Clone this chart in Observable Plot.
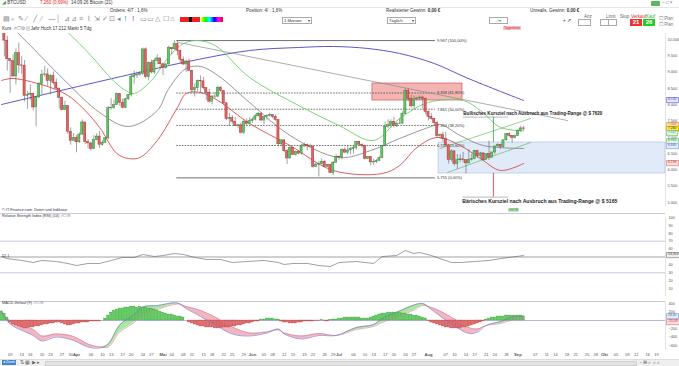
<!DOCTYPE html>
<html><head><meta charset="utf-8">
<script src="https://cdn.jsdelivr.net/npm/d3@7"></script>
<script src="https://cdn.jsdelivr.net/npm/@observablehq/plot@0.6"></script>
<style>
body{margin:0;background:#fff;font-family:"Liberation Sans",Arial,sans-serif;}
#wrap{position:relative;width:679px;height:366px;overflow:hidden;background:#fff;}
.p{position:absolute;left:0;}
.t{position:absolute;font-size:4.5px;line-height:6px;color:#333;white-space:nowrap;}
.box{position:absolute;border:0.5px solid #aaa;background:#fff;font-size:4.2px;line-height:5px;color:#333;white-space:nowrap;padding:0 1px;}
.tag{position:absolute;left:666px;font-size:3.4px;line-height:3.8px;padding:0 1px;white-space:nowrap;transform:translateY(-50%);border:0.4px solid;}
.ic{position:absolute;top:15px;font-size:7px;line-height:8px;color:#888;}
.hl{position:absolute;height:0;border-top:0.8px solid #c9c9e2;}
</style></head><body><div id="wrap"></div>
<script>
// ---------------- data ----------------
const firstDay = "2018-03-06";
const open0 = 11573;
const close = [
 10779,9965,9395,9337,8866,9578,9205,9194,8270,8300,8338,7916,8223,8630,8913,8929,8728,8879,8669,8495,8209,7833,7954,7165,6891,6973,
 6845,7083,7456,6853,6811,6636,6911,7023,6770,6834,6968,7889,7895,7986,8329,8058,7902,8163,8294,8845,8896,8917,8940,9697,8845,9281,8988,9348,9419,9240,
 9119,9235,9744,9700,9859,9655,9374,9235,9325,9043,8441,8505,8723,8716,8511,8368,8094,8251,8248,8514,8419,8042,7557,7587,7480,7355,7368,7136,7472,7407,7494,
 7541,7644,7720,7514,7633,7653,7678,7625,7531,6786,6906,6582,6349,6675,6457,6550,6500,6718,6760,6721,6711,6083,6163,6173,6250,6094,6157,5903,6218,6404,
 6385,6614,6529,6597,6639,6673,6857,6773,6741,6329,6394,6228,6238,6276,6359,6741,7321,7370,7466,7354,7419,7418,7711,8424,8181,7951,8165,8193,8218,8180,7780,
 7625,7567,7434,7032,7068,6951,6753,6305,6568,6184,6295,6323,6297,6199,6308,6334,6580,6423,6506,6308,6488,6376,6534,6719,6764,6708,6908,7096,7047,6978,7037,
 7193,7273,7260];
const high = [
 11600,11000,10100,9420,9531,9711,9889,9470,9355,8402,8604,8346,8261,8682,9051,9177,9100,8918,9007,8787,8511,8232,8107,7965,7292,7110,
 7050,7135,7530,7457,6933,6857,7050,7109,7178,6892,6990,7947,8183,8140,8357,8338,8177,8197,8310,8935,9035,9002,9021,9739,9745,9307,9367,9412,9531,9429,
 9255,9256,9798,9746,9964,9940,9674,9463,9370,9400,9060,8638,8760,8881,8837,8512,8470,8275,8380,8572,8560,8430,8050,7735,7662,7603,7400,7445,7537,7565,7599,
 7597,7700,7760,7754,7637,7689,7741,7700,7685,7540,6915,6920,6620,6707,6690,6580,6590,6785,6822,6794,6790,6735,6238,6256,6339,6283,6165,6171,6261,6465,
 6432,6643,6681,6736,6683,6736,6860,6880,6795,6760,6407,6410,6330,6320,6400,6750,7466,7535,7537,7613,7452,7568,7784,8478,8485,8292,8264,8231,8270,8260,8200,
 7800,7727,7580,7492,7102,7160,7150,6770,6625,6595,6472,6465,6537,6310,6620,6478,6600,6583,6538,6521,6500,6883,6550,6728,6805,6786,6914,7112,7140,7059,7066,
 7243,7344,7338];
const low = [
 10580,9466,9035,8350,8828,8607,8958,8933,8083,7861,8126,7812,7323,8179,8295,8846,8564,8312,8613,8444,7862,7807,7830,7081,6758,6891,
 6526,6816,7072,6776,6644,6575,6630,6890,6662,6726,6817,6926,7831,7860,7975,7948,7876,7880,8140,8234,8631,8806,8873,8900,8792,8730,8948,8931,9227,9085,
 8891,9084,9218,9542,9680,9508,9265,9198,8983,9010,8349,8238,8405,8340,8456,8137,8050,7994,8181,8211,8375,8004,7509,7331,7392,7334,7273,7102,7090,7337,7380,
 7429,7500,7620,7474,7392,7525,7630,7563,7500,6709,6714,6536,6170,6335,6439,6424,6470,6446,6705,6589,6700,6052,6074,5786,6143,6089,6068,5892,5826,6200,
 6297,6305,6497,6473,6459,6487,6609,6740,6662,6304,6313,6130,6136,6194,6265,6346,6705,7276,7281,7290,7301,7393,7405,7704,8090,7897,7862,8118,8127,7871,7696,
 7505,7525,7329,6986,6940,6848,6740,6180,6249,6113,6022,6237,6212,5880,6180,6263,6312,6361,6307,6266,6298,6289,6362,6465,6688,6632,6686,6886,6995,6824,6944,
 7030,7151,7195];

// long moving average (blue)
const blueDates = ["2018-03-06","2018-04-03","2018-04-21","2018-05-08","2018-05-31","2018-06-17","2018-06-29","2018-07-11","2018-07-22","2018-08-03","2018-08-14","2018-08-26","2018-09-03"];
const blueValues = [8006,8589,8957,9294,9663,9755,9785,9724,9571,9264,8834,8405,8129];
// upper band (green)
const upperDates = ["2018-03-25","2018-03-29","2018-04-06","2018-04-13","2018-04-18","2018-04-21","2018-04-27","2018-05-02","2018-05-07","2018-05-12","2018-05-19","2018-05-31","2018-06-17","2018-07-01","2018-07-13","2018-07-22","2018-08-01","2018-08-13","2018-08-19","2018-08-26","2018-09-03"];
const upperValues = [10521,10215,9509,8804,8436,8344,8742,9356,9816,9969,9816,8834,7975,7362,6902,7577,8067,8129,7822,7300,7200];
// middle band (gray)
const midDates = ["2018-03-08","2018-03-11","2018-03-16","2018-03-29","2018-04-09","2018-04-19","2018-04-29","2018-05-03","2018-05-09","2018-05-14","2018-05-20","2018-05-31","2018-06-14","2018-07-01","2018-07-12","2018-07-22","2018-08-01","2018-08-05","2018-08-12","2018-08-20","2018-09-03"];
const midValues = [10700,10276,9816,8650,7761,7331,7822,8497,9110,9172,8896,8067,7055,6380,6595,6963,7301,7393,7055,6748,6656];
// lower band (red)
const lowerDates = ["2018-03-06","2018-03-10","2018-03-23","2018-03-29","2018-04-03","2018-04-09","2018-04-15","2018-04-19","2018-04-23","2018-04-29","2018-05-06","2018-05-09","2018-05-14","2018-05-20","2018-05-31","2018-06-14","2018-06-29","2018-07-16","2018-07-22","2018-07-28","2018-08-04","2018-08-12","2018-08-19","2018-08-26","2018-09-03"];
const lowerValues = [8742,8804,8528,8282,7914,7301,6503,6350,6380,6902,7914,8344,8374,8129,7423,6748,5982,5889,6135,6687,6994,6748,6350,5982,6196];

// Fibonacci retracement
const fibValues = [9967,8358,7861,7364,6749,5755];
const fibLabels = ["9.967 (100,00%)","8.358 (61,80%)","7.861 (50,00%)","7.364 (38,20%)","6.749 (23,60%)","5.755 (0,00%)"];
const fibSolid = [true,false,false,false,false,true];
const fibFrom = "2018-05-05T18:00:00Z", fibTo = "2018-08-03T10:00:00Z";

// drawn objects
const trendDates = ["2018-05-06T10:00:00Z","2018-09-18T05:00:00Z"];
const trendValues = [9908,7515];
const rangeBox = {from:"2018-08-04T12:00:00Z", to:"2018-10-22T03:50:00Z", lo:5890, hi:6840};
const resistBox = {from:"2018-07-12T14:00:00Z", to:"2018-08-12T19:00:00Z", lo:8129, hi:8650};
const channelUpperDates = ["2018-08-05T00:00:00Z","2018-09-05T10:00:00Z"], channelUpperValues = [6656,7577];
const channelLowerDates = ["2018-08-07T14:00:00Z","2018-09-05T10:00:00Z"], channelLowerValues = [5920,6840];
const targetFrom = "2018-08-13T02:00:00Z", targetTo = "2018-08-28T17:00:00Z";
const targetValues = [7620,5165];
const moveDate = "2018-08-23T12:00:00Z";
const bullText = "Bullisches Kursziel nach Ausbruch aus Trading-Range @ $ 7620";
const bearText = "Bärisches Kursziel nach Ausbruch aus Trading-Range @ $ 5165";
const bullTextAt = {date:"2018-08-13T02:00:00Z", v:7730};
const bearTextAt = {date:"2018-08-12T18:00:00Z", v:5031};

// RSI
const rsiDates = ["2018-03-06","2018-03-08","2018-03-13","2018-03-17","2018-03-20","2018-03-25","2018-03-29","2018-04-01","2018-04-05","2018-04-09","2018-04-13","2018-04-17","2018-04-21","2018-04-24","2018-04-28","2018-05-01","2018-05-05","2018-05-08","2018-05-12","2018-05-16","2018-05-21","2018-05-25","2018-05-30","2018-06-05","2018-06-10","2018-06-12","2018-06-15","2018-06-20","2018-06-24","2018-06-28","2018-07-01","2018-07-07","2018-07-13","2018-07-16","2018-07-21","2018-07-24","2018-07-27","2018-07-29","2018-08-02","2018-08-05","2018-08-09","2018-08-12","2018-08-17","2018-08-22","2018-08-26","2018-08-29","2018-09-03"];
const rsiValues = [50.6,48,45.6,43,45.6,44.3,41.8,39.2,41.8,41.8,45.6,49.4,49.4,53.2,50.6,51.9,54.4,53.2,49.4,46.8,46.8,43,44.3,45.6,43,40.5,41.8,41.8,39.2,38,43,44.3,41.8,50.6,51.9,58.2,54.4,55.7,51.9,48,43,43,44.3,45.6,48,49.4,51.9];

// MACD
const macdDates = ["2018-03-06","2018-03-09","2018-03-17","2018-03-20","2018-03-25","2018-03-31","2018-04-05","2018-04-09","2018-04-12","2018-04-16","2018-04-21","2018-04-24","2018-04-29","2018-05-06","2018-05-09","2018-05-14","2018-05-20","2018-05-25","2018-05-31","2018-06-06","2018-06-10","2018-06-12","2018-06-18","2018-06-24","2018-06-30","2018-07-07","2018-07-13","2018-07-16","2018-07-22","2018-07-27","2018-07-30","2018-08-02","2018-08-05","2018-08-10","2018-08-15","2018-08-18","2018-08-21","2018-08-26","2018-08-30","2018-09-03"];
const macdValues = [229,-84,-361,-494,-398,-482,-639,-663,-567,-108,145,326,361,422,289,97,-145,-326,-373,-301,-205,-325,-446,-361,-362,-169,-96,48,229,373,410,265,109,-132,-313,-277,-120,-24,84,108];
const signalValues = [205,-12,-217,-374,-326,-386,-567,-639,-639,-278,-49,157,265,398,337,242,49,-157,-301,-277,-229,-301,-374,-313,-362,-217,-144,-48,109,253,362,313,229,36,-169,-205,-120,-72,12,36];
const histValues = [
 216,168,72,-48,-96,-120,-144,-168,-192,-192,-168,-168,-144,-144,-120,-96,-96,-72,-72,-48,-48,-72,-96,-120,-120,-96,
 -72,-72,-48,-48,-48,-24,-24,-24,-24,0,48,120,192,240,264,288,288,312,312,336,336,312,336,312,312,288,288,264,240,216,
 192,168,144,144,120,96,96,72,0,-48,-72,-96,-120,-144,-144,-168,-168,-168,-192,-192,-192,-168,-168,-168,-144,-144,-120,-120,-96,-72,-72,
 -48,-24,-24,24,24,48,48,48,24,24,-24,-48,-48,-72,-72,-72,-48,-48,-24,-24,-24,-24,-12,-12,12,-12,-24,12,24,24,
 48,48,72,72,72,72,72,72,48,48,48,72,96,120,144,168,168,192,192,192,192,192,168,168,144,144,120,120,96,72,48,
 -12,-48,-72,-96,-120,-144,-168,-168,-192,-192,-192,-192,-168,-168,-144,-120,-96,-72,-48,-24,24,48,72,72,96,96,96,120,120,120,120,
 120,120,96];

// axes
const priceTicks = [5000,5500,6000,6500,7000,7500,8000,8500,9000,9500,10000];
const rsiTicks = [10,20,30,40,60,70,80,90,100];
const macdTicks = [400,200,-200,-400,-600];
const dayTicks = ["2018-03-09","2018-03-13","2018-03-16","2018-03-20","2018-03-23","2018-03-27","2018-03-30",
 "2018-04-06","2018-04-10","2018-04-13","2018-04-17","2018-04-20","2018-04-24","2018-04-27",
 "2018-05-04","2018-05-08","2018-05-11","2018-05-15","2018-05-18","2018-05-22","2018-05-25","2018-05-29",
 "2018-06-05","2018-06-08","2018-06-12","2018-06-15","2018-06-19","2018-06-22","2018-06-26","2018-06-29",
 "2018-07-06","2018-07-10","2018-07-13","2018-07-17","2018-07-20","2018-07-24","2018-07-27",
 "2018-08-07","2018-08-10","2018-08-14","2018-08-17","2018-08-21","2018-08-24","2018-08-28",
 "2018-09-07","2018-09-11","2018-09-14","2018-09-18","2018-09-21","2018-09-25","2018-09-28",
 "2018-10-05","2018-10-09","2018-10-12","2018-10-16","2018-10-19"];
const monthTicks = ["2018-04-01","2018-05-01","2018-06-01","2018-07-01","2018-08-01","2018-09-01","2018-10-01"];
const monthNames = ["Apr","Mai","Jun","Jul","Aug","Sep","Okt"];

// ---------------- build ----------------
const U = s => new Date(s.length === 10 ? s + "T00:00:00Z" : s);
const series = (ds, vs) => ds.map((d, i) => ({date: U(d), v: vs[i]}));
const xDomain = [U("2018-03-05T15:46:00Z"), U("2018-10-22T03:50:00Z")];
const xRange = [0, 665];
const fontFamily = "Liberation Sans, Arial, sans-serif";
const de = d3.formatLocale({decimal: ",", thousands: ".", grouping: [3], currency: ["", "€"]});
const fmtPrice = de.format(",.0f");

const candles = close.map((c, i) => ({
  date: d3.utcDay.offset(U(firstDay), i),
  open: i === 0 ? open0 : close[i - 1], close: c, high: high[i], low: low[i]
}));
const upC = candles.filter(d => d.close >= d.open);
const dnC = candles.filter(d => d.close < d.open);
const half = 9 * 3600e3;
const bx1 = d => new Date(+d.date - half), bx2 = d => new Date(+d.date + half);
const fib = fibValues.map((v, i) => ({v, label: fibLabels[i], solid: fibSolid[i]}));

const wrap = document.getElementById("wrap");
function place(el, top) { const d = document.createElement("div"); d.className = "p"; d.style.top = top + "px"; d.appendChild(el); wrap.appendChild(d); return d; }
function html(s) { wrap.insertAdjacentHTML("beforeend", s); }

// ---- main price panel ----
const mainTop = 30;
const main = Plot.plot({
  width: 679, height: 178, marginLeft: 0, marginRight: 14, marginTop: 3, marginBottom: 2,
  x: {type: "utc", domain: xDomain, range: xRange, axis: null, label: null},
  y: {domain: [5000, 10000], range: [172, 9], label: null},
  style: {fontFamily, fontSize: "4.2px", background: "transparent", color: "#555", overflow: "visible"},
  marks: [
    Plot.rect([rangeBox], {x1: d => U(d.from), x2: d => U(d.to), y1: "lo", y2: "hi", fill: "#e1eaf8", stroke: "#a9bee2", strokeWidth: 0.6}),
    Plot.rect([resistBox], {x1: d => U(d.from), x2: d => U(d.to), y1: "lo", y2: "hi", fill: "#f4b4b4", stroke: "#d65454", strokeWidth: 0.7}),
    Plot.ruleY(fib.filter(d => d.solid), {y: "v", x1: () => U(fibFrom), x2: () => U(fibTo), stroke: "#333", strokeWidth: 0.7}),
    Plot.ruleY(fib.filter(d => !d.solid), {y: "v", x1: () => U(fibFrom), x2: () => U(fibTo), stroke: "#333", strokeWidth: 0.7, strokeDasharray: "1.6,1.2"}),
    Plot.text(fib, {x: () => U(fibTo), y: "v", text: "label", textAnchor: "start", dx: 1.5, fontSize: 4, fill: "#333"}),
    Plot.line(series(blueDates, blueValues), {x: "date", y: "v", stroke: "#5a58c8", strokeWidth: 1, curve: "catmull-rom", clip: true}),
    Plot.line(series(trendDates, trendValues), {x: "date", y: "v", stroke: "#8a8a8a", strokeWidth: 0.7}),
    Plot.line(series(upperDates, upperValues), {x: "date", y: "v", stroke: "#6ccf6c", strokeWidth: 0.9, curve: "catmull-rom", clip: true}),
    Plot.line(series(midDates, midValues), {x: "date", y: "v", stroke: "#7c7c7c", strokeWidth: 0.8, curve: "catmull-rom", clip: true}),
    Plot.line(series(lowerDates, lowerValues), {x: "date", y: "v", stroke: "#d94a4a", strokeWidth: 0.9, curve: "catmull-rom", clip: true}),
    Plot.line(series(channelUpperDates, channelUpperValues), {x: "date", y: "v", stroke: "#4fb34f", strokeWidth: 0.6}),
    Plot.line(series(channelLowerDates, channelLowerValues), {x: "date", y: "v", stroke: "#4fb34f", strokeWidth: 0.6}),
    Plot.ruleY(targetValues, {y: d => d, x1: () => U(targetFrom), x2: () => U(targetTo), stroke: "#8a8a8a", strokeWidth: 0.6}),
    Plot.ruleX([moveDate], {x: d => U(d), y1: () => rangeBox.hi, y2: () => targetValues[0], stroke: "#3f9f3f", strokeWidth: 0.8}),
    Plot.ruleX([moveDate], {x: d => U(d), y1: () => rangeBox.lo, y2: () => targetValues[1], stroke: "#d23030", strokeWidth: 0.8}),
    Plot.ruleX(candles, {x: "date", y1: "low", y2: "high", stroke: "#555", strokeWidth: 0.55, clip: true}),
    Plot.rect(upC, {x1: bx1, x2: bx2, y1: "open", y2: "close", fill: "#66c466", stroke: "#2f7d32", strokeWidth: 0.45, clip: true}),
    Plot.rect(dnC, {x1: bx1, x2: bx2, y1: "open", y2: "close", fill: "#e06464", stroke: "#a42a2a", strokeWidth: 0.45, clip: true}),
    Plot.text([bullTextAt], {x: d => U(d.date), y: "v", text: () => bullText, textAnchor: "start", fontSize: 6, fontWeight: "bold", fill: "#222"}),
    Plot.text([bearTextAt], {x: d => U(d.date), y: "v", text: () => bearText, textAnchor: "start", fontSize: 6, fontWeight: "bold", fill: "#222"}),
    Plot.ruleX([xDomain[1]], {stroke: "#d0d0d0", strokeWidth: 0.6}),
    Plot.axisY({anchor: "right", ticks: priceTicks, tickSize: 0, tickPadding: 2, tickFormat: fmtPrice, fontSize: 3.8, label: null})
  ]
});
d3.select(main).selectAll("text").each(function () {
  const t = this.textContent;
  if (t === bullText) { this.setAttribute("textLength", 139); this.setAttribute("lengthAdjust", "spacingAndGlyphs"); }
  if (t === bearText) { this.setAttribute("textLength", 155); this.setAttribute("lengthAdjust", "spacingAndGlyphs"); }
});
place(main, mainTop);

// ---- RSI panel ----
const rsiTop = 208;
const rsi = Plot.plot({
  width: 679, height: 92, marginLeft: 0, marginRight: 14, marginTop: 5, marginBottom: 4,
  x: {type: "utc", domain: xDomain, range: xRange, axis: null, label: null},
  y: {domain: [0, 100], range: [88, 9], label: null},
  style: {fontFamily, fontSize: "4px", background: "transparent", color: "#555", overflow: "visible"},
  marks: [
    Plot.ruleY([70, 30], {stroke: "#b9b9da", strokeWidth: 0.8}),
    Plot.ruleY([50], {stroke: "#8c8c8c", strokeWidth: 0.8}),
    Plot.line(series(rsiDates, rsiValues), {x: "date", y: "v", stroke: "#606060", strokeWidth: 0.6}),
    Plot.ruleX([xDomain[1]], {y1: 0, y2: 100, stroke: "#d0d0d0", strokeWidth: 0.6}),
    Plot.axisY({anchor: "right", ticks: rsiTicks, tickSize: 0, tickPadding: 3, tickFormat: d3.format("d"), fontSize: 3.8, label: null})
  ]
});
place(rsi, rsiTop);

// ---- MACD panel ----
const macdTop = 300;
const macdData = macdDates.map((d, i) => ({date: U(d), m: macdValues[i], s: signalValues[i]}));
const hist = histValues.map((v, i) => ({date: d3.utcDay.offset(U(firstDay), i), v}));
const hx1 = d => new Date(+d.date - 10 * 3600e3), hx2 = d => new Date(+d.date + 10 * 3600e3);
const monthMap = new Map(monthTicks.map((d, i) => [+U(d), monthNames[i]]));
const macd = Plot.plot({
  width: 679, height: 60, marginLeft: 0, marginRight: 14, marginTop: 2, marginBottom: 10,
  x: {type: "utc", domain: xDomain, range: xRange, label: null},
  y: {domain: [-723, 434], range: [50, 2], label: null},
  style: {fontFamily, fontSize: "4px", background: "transparent", color: "#555", overflow: "visible"},
  marks: [
    Plot.areaY(macdData, {x: "date", y1: "s", y2: d => Math.max(d.m, d.s), fill: "#a9e8a1", curve: "catmull-rom"}),
    Plot.areaY(macdData, {x: "date", y1: "s", y2: d => Math.min(d.m, d.s), fill: "#f3b7c2", curve: "catmull-rom"}),
    Plot.ruleY([0], {stroke: "#9a9acc", strokeWidth: 0.7}),
    Plot.rect(hist.filter(d => d.v >= 0), {x1: hx1, x2: hx2, y1: 0, y2: "v", fill: "#5fcf5f", stroke: "#2f8f2f", strokeWidth: 0.3}),
    Plot.rect(hist.filter(d => d.v < 0), {x1: hx1, x2: hx2, y1: 0, y2: "v", fill: "#e46a6a", stroke: "#a83030", strokeWidth: 0.3}),
    Plot.line(macdData, {x: "date", y: "s", stroke: "#d07a92", strokeWidth: 0.6, curve: "catmull-rom"}),
    Plot.line(macdData, {x: "date", y: "m", stroke: "#8577c9", strokeWidth: 0.7, curve: "catmull-rom"}),
    Plot.ruleX([xDomain[1]], {y1: -723, y2: 434, stroke: "#d0d0d0", strokeWidth: 0.6}),
    Plot.axisY({anchor: "right", ticks: macdTicks, tickSize: 0, tickPadding: 3, tickFormat: d3.format("d"), fontSize: 3.8, label: null}),
    Plot.axisX({anchor: "bottom", ticks: dayTicks.map(U), tickSize: 0, tickPadding: 2.5, tickFormat: d3.utcFormat("%d"), fontSize: 4, label: null}),
    Plot.axisX({anchor: "bottom", ticks: monthTicks.map(U), tickSize: 0, tickPadding: 2.5, tickFormat: d => monthMap.get(+d), fontSize: 4.2, fontWeight: "bold", label: null})
  ]
});
place(macd, macdTop);

// ---- value tags on the right axis (positioned through the plots' scales) ----
function tag(plot, top, v, text, bg, fg, bd) {
  const y = top + plot.scale("y").apply(v);
  html(`<div class="tag" style="top:${y}px;background:${bg};color:${fg};border-color:${bd}">${text}</div>`);
}
tag(main, mainTop, 8132, "8.132", "#e4e4fb", "#4d4db3", "#9a9ade");
tag(main, mainTop, 7365, "7.362", "#ffe2c2", "#c46a00", "#f0b070");
tag(main, mainTop, 7240, "7.260", "#ffe94d", "#333", "#d8c000");
tag(main, mainTop, 7105, "7.117", "#dff5df", "#2f8f2f", "#9ad09a");
tag(main, mainTop, 6860, "6.963", "#dff5df", "#2f8f2f", "#9ad09a");
tag(main, mainTop, 6720, "6.840", "#e2ecfa", "#4a6aa0", "#a8bde0");
tag(main, mainTop, 6196, "6.196", "#fbe0e0", "#c03030", "#e8a0a0");
tag(rsi, rsiTop, 52, "53,353", "#eeeeee", "#444", "#aaa");
tag(macd, macdTop, 90, "26,45", "#e2ecfa", "#4a6aa0", "#a8bde0");
tag(macd, macdTop, -45, "-21,08", "#fbe0e0", "#c03030", "#e8a0a0");

// ---- header / toolbar ----
html(`<div class="t" style="left:2px;top:0px"><span style="color:#3a3">&#9698;</span> BTCUSD</div>
<div class="t" style="left:40px;top:0px;color:#d22">7.260 (0,69%)</div>
<div class="t" style="left:71px;top:0px">14:09:26 Bitcoin (21)</div>
<div class="hl" style="left:0;top:7px;width:679px;border-color:#e6e6e6"></div>
<div class="t" style="left:110px;top:7.5px">Ordens: 4/7 : 1,6%</div>
<div class="t" style="left:246px;top:7.5px">Position: 4/ : 1,6%</div>
<div class="t" style="left:386px;top:7.5px">Realisierter Gewinn: <b>0,00 €</b></div>
<div class="t" style="left:530px;top:7.5px">Unrealis. Gewinn: <b>0,00 €</b></div>
<div style="position:absolute;left:651px;top:1px;width:9px;height:5px;background:#5cb85c;border-radius:1px"></div>
<div class="t" style="left:662px;top:0px;color:#777">– □ ×</div>
<div class="box" style="left:282px;top:17px;width:26px">1 Monate <span style="float:right">▾</span></div>
<div class="box" style="left:387px;top:17px;width:25px">Täglich <span style="float:right">▾</span></div>
<div class="box" style="left:489px;top:16.5px;width:15px;color:#3a3;text-align:center">&#8599;&#9662;</div>
<div class="t" style="left:563px;top:18px">+ &#8599;</div>
<div class="t" style="left:584px;top:14px;color:#666">Anz</div>
<div class="box" style="left:578px;top:19px;width:9px">&nbsp;</div>
<div class="t" style="left:606px;top:14px;color:#666">Limit</div>
<div class="box" style="left:600px;top:19px;width:5px">&nbsp;</div><div class="box" style="left:608px;top:19px;width:5px">&nbsp;</div>
<div class="t" style="left:620px;top:14px;color:#666">Stop</div>
<div class="t" style="left:631px;top:14px;color:#c33">Verkauf</div>
<div class="t" style="left:646px;top:14px;color:#3a3">Kauf</div>
<div style="position:absolute;left:630px;top:19px;width:12px;height:7px;background:#e33;color:#fff;font-size:6px;line-height:7px;text-align:center;font-weight:bold">21</div>
<div style="position:absolute;left:643px;top:19px;width:12px;height:7px;background:#2c2;color:#fff;font-size:6px;line-height:7px;text-align:center;font-weight:bold">26</div>
<div class="t" style="left:659px;top:16px;color:#777">☐ Plan</div>
<div class="t" style="left:659px;top:22px;color:#777">☐ Plan</div>
<div style="position:absolute;left:180px;top:17px;width:20px;height:5px;background:linear-gradient(90deg,#e22,#e22 45%,#111 45%,#111 60%,#e22 60%)"></div>
<div style="position:absolute;left:201px;top:17px;width:22px;height:5px;background:linear-gradient(90deg,#ff0,#0f0,#0ff,#00f,#f0f,#f00)"></div>
<div style="position:absolute;left:503px;top:26px;height:4px;padding:0 1px;background:#f6c6c6;color:#b22;font-size:3.6px;line-height:4px">Tageslinie</div>
<div class="t" style="left:2px;top:26px">Kurs <span style="color:#888">&#8599;&#9744;&#9881;</span> <span style="background:#ddd">&nbsp;&nbsp;&nbsp;</span> Jahr Hoch 17.212 Markt 5 Tdg</div>
<div class="t" style="left:2px;top:207px;font-size:3.8px">© IT-Finance.com: Daten und Indikator</div>
<div class="hl" style="left:0;top:212.5px;width:665px"></div>
<div class="t" style="left:2px;top:213px;font-size:3.8px">Relative Strength Index (RSI) (14) <span style="color:#888">&#8599;&#9744;&#9881;</span></div>
<div class="t" style="left:2px;top:253px;font-size:3.8px">52,1</div>
<div class="hl" style="left:0;top:300.5px;width:665px"></div>
<div class="t" style="left:2px;top:300px;font-size:3.8px">MACD-Verlauf (9) <span style="color:#888">&#8599;&#9744;&#9881;</span></div>
<div style="position:absolute;left:508px;top:208px;height:4px;padding:0 1px;background:#bff0bf;color:#262;font-size:3.6px;line-height:4px">09/18</div>
<div style="position:absolute;left:0;top:359px;width:679px;height:7px;background:#efefef;border-top:0.5px solid #ddd"></div>
<div style="position:absolute;left:2px;top:360px;width:14px;height:5px;background:#3d86d8;color:#fff;font-size:3.6px;line-height:5px;text-align:center">◂ Zoom</div>
<div class="t" style="left:20px;top:359px;color:#666;font-size:5px">⇅ ▦ ▶ ▸</div>
<div style="position:absolute;left:45px;top:361px;width:590px;height:3px;background:#e2e2e2;border:0.5px solid #d2d2d2"></div>
<div class="t" style="left:640px;top:359px;color:#666;font-size:5px">- ⊞ ⌕ ⌕ ⌕</div>`);
const icons = ["▤","⌕","✎","∕","╱","∕","—","│","⊿","⊿","≡","⌇","⇲","✓","⊡","◂","!","!","▭","▭","△","☐","⌂"];
const iconCol = {16: "#2a2", 17: "#d22"};
icons.forEach((g, i) => html(`<div class="ic" style="left:${3 + i * 7.6}px;color:${iconCol[i] || "#888"}">${g}</div>`));
</script></body></html>
